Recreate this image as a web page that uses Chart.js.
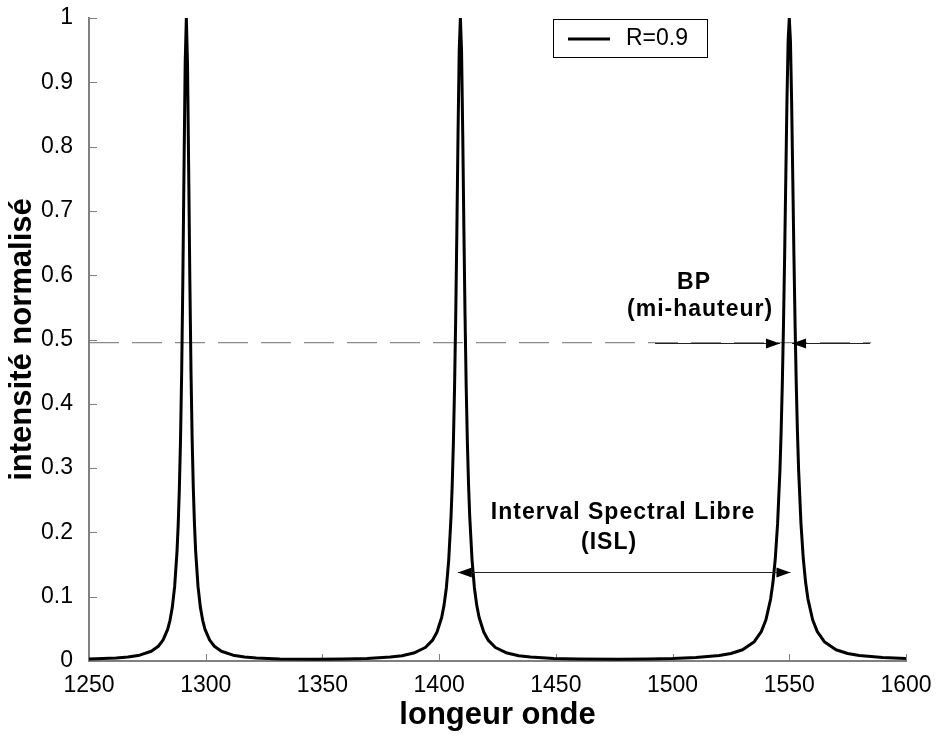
<!DOCTYPE html>
<html>
<head>
<meta charset="utf-8">
<script src="https://cdn.jsdelivr.net/npm/chart.js@4.4.1/dist/chart.umd.min.js"></script>
<style>
  html, body { margin: 0; padding: 0; background: #fff; }
  #wrap { width: 936px; height: 738px; }
</style>
</head>
<body>
<div id="wrap"><canvas id="fpChart" width="936" height="738"></canvas></div>
<script>
// Transmission Fabry-Perot, R = 0.9
const wavelength = [
  1250, 1261.7, 1266.7, 1271.7, 1276.7, 1279.7, 1281.7, 1283.7, 1284.7, 1285.7, 1286.7, 1287.7, 1288.2, 1288.7, 1289.2,
  1289.7, 1290.2, 1290.7, 1291.2, 1291.7, 1292.2, 1292.7, 1293.2, 1293.7, 1294.2, 1294.7, 1295.2, 1295.7, 1296.7, 1297.7,
  1298.7, 1299.7, 1301.7, 1303.7, 1306.7, 1311.7, 1316.7, 1321.7, 1331.7, 1347.8,
  1359.1, 1369.1, 1379.1, 1384.1, 1389.1, 1394.1, 1397.1, 1399.1, 1401.1, 1402.1, 1403.1, 1404.1, 1405.1, 1405.6, 1406.1,
  1406.6, 1407.1, 1407.6, 1408.1, 1408.6, 1409.1, 1409.6, 1410.1, 1410.6, 1411.1, 1411.6, 1412.1, 1412.6, 1413.1, 1414.1,
  1415.1, 1416.1, 1417.1, 1419.1, 1421.1, 1424.1, 1429.1, 1434.1, 1439.1, 1449.1, 1459.1, 1476.2,
  1490, 1500, 1510, 1520, 1525, 1530, 1535, 1538, 1540, 1542, 1543, 1544, 1545, 1546, 1546.5, 1547, 1547.5, 1548,
  1548.5, 1549, 1549.5, 1550, 1550.5, 1551, 1551.5, 1552, 1552.5, 1553, 1553.5, 1554, 1555, 1556, 1557, 1558, 1560,
  1562, 1565, 1570, 1575, 1580, 1590, 1600
];
const intensity = [
  0.0032, 0.0047, 0.0062, 0.0091, 0.0152, 0.0230, 0.0324, 0.0493, 0.0632, 0.0838, 0.116, 0.170, 0.211, 0.267, 0.343,
  0.449, 0.592, 0.765, 0.929, 1, 0.929, 0.765, 0.592, 0.449, 0.343, 0.267, 0.211, 0.170, 0.116, 0.0838,
  0.0632, 0.0493, 0.0324, 0.0230, 0.0152, 0.0091, 0.0062, 0.0047, 0.0033, 0.0028,
  0.0031, 0.0040, 0.0061, 0.0083, 0.0124, 0.0210, 0.0320, 0.0450, 0.0681, 0.0869, 0.114, 0.157, 0.225, 0.274, 0.339,
  0.425, 0.536, 0.672, 0.822, 0.949, 1, 0.949, 0.822, 0.672, 0.536, 0.425, 0.339, 0.274, 0.225, 0.157,
  0.114, 0.0869, 0.0681, 0.0450, 0.0320, 0.0210, 0.0124, 0.0083, 0.0061, 0.0040, 0.0031, 0.0028,
  0.0032, 0.0038, 0.0053, 0.0084, 0.0117, 0.0175, 0.0300, 0.0457, 0.0641, 0.0963, 0.122, 0.159, 0.214, 0.297, 0.356, 0.429, 0.520, 0.628,
  0.750, 0.871, 0.964, 1, 0.964, 0.871, 0.750, 0.628, 0.520, 0.429, 0.356, 0.297, 0.214, 0.159, 0.122, 0.0963, 0.0641,
  0.0457, 0.0300, 0.0175, 0.0117, 0.0084, 0.0053, 0.0038
];

// ligne mi-hauteur (pointillés)
const halfX = [1250, 1585];
const halfY = [0.495, 0.495];

// fleches (unites des axes)
const bpLeftArrow = [1492.5, 1546];   // de -> pointe
const bpRightArrow = [1584.6, 1551.2];
const islArrow = [1408, 1550.5];
const islLevel = 0.139;

const xTicks = [1250, 1300, 1350, 1400, 1450, 1500, 1550, 1600];
const xTickLabels = ['1250', '1300', '1350', '1400', '1450', '1500', '1550', '1600'];
const yTicks = [0, 0.1, 0.2, 0.3, 0.4, 0.5, 0.6, 0.7, 0.8, 0.9, 1];
const yTickLabels = ['0', '0.1', '0.2', '0.3', '0.4', '0.5', '0.6', '0.7', '0.8', '0.9', '1'];

const seriesLabel = 'R=0.9';

const notes = [
  { text: 'BP', x: 1509.2, y: 0.588 },
  { text: '(mi-hauteur)', x: 1511.8, y: 0.546 },
  { text: 'Interval Spectral Libre', x: 1478.8, y: 0.230 },
  { text: '(ISL)', x: 1472.8, y: 0.184 }
];

const FONT = 'Arial, "Liberation Sans", Helvetica, sans-serif';

function arrowHead(ctx, tipX, tipY, dir) {
  // dir = -1 pointe a gauche, 1 a droite
  const len = 14, half = 5;
  ctx.beginPath();
  ctx.moveTo(tipX, tipY);
  ctx.lineTo(tipX - dir * len, tipY - half);
  ctx.lineTo(tipX - dir * len, tipY + half);
  ctx.closePath();
  ctx.fill();
}

const insideTicks = {
  id: 'insideTicks',
  beforeDatasetsDraw(chart) {
    const { ctx, chartArea, scales } = chart;
    ctx.save();
    ctx.strokeStyle = '#808080';
    ctx.lineWidth = 1;
    xTicks.forEach(v => {
      const px = Math.round(scales.x.getPixelForValue(v)) + 0.5;
      ctx.beginPath();
      ctx.moveTo(px, chartArea.bottom);
      ctx.lineTo(px, chartArea.bottom - 7);
      ctx.stroke();
    });
    yTicks.forEach(v => {
      const py = Math.round(scales.y.getPixelForValue(v)) + 0.5;
      ctx.beginPath();
      ctx.moveTo(chartArea.left, py);
      ctx.lineTo(chartArea.left + 8, py);
      ctx.stroke();
    });
    ctx.restore();
  }
};

const annotations = {
  id: 'annotations',
  afterDatasetsDraw(chart) {
    const { ctx, scales } = chart;
    const xs = scales.x, ys = scales.y;
    ctx.save();
    ctx.strokeStyle = '#222';
    ctx.fillStyle = '#000';
    ctx.lineWidth = 1;

    // fleches BP
    const yb = Math.round(ys.getPixelForValue(halfY[0])) + 0.5;
    [bpLeftArrow, bpRightArrow].forEach(a => {
      const x0 = xs.getPixelForValue(a[0]);
      const x1 = xs.getPixelForValue(a[1]);
      ctx.beginPath();
      ctx.moveTo(x0, yb);
      ctx.lineTo(x1, yb);
      ctx.stroke();
      arrowHead(ctx, x1, yb, x1 > x0 ? 1 : -1);
    });

    // double fleche ISL
    const yi = Math.round(ys.getPixelForValue(islLevel)) + 0.5;
    const xa = xs.getPixelForValue(islArrow[0]);
    const xb = xs.getPixelForValue(islArrow[1]);
    ctx.beginPath();
    ctx.moveTo(xa, yi);
    ctx.lineTo(xb, yi);
    ctx.stroke();
    arrowHead(ctx, xa, yi, -1);
    arrowHead(ctx, xb, yi, 1);

    // textes
    ctx.font = 'bold 23px ' + FONT;
    if ('letterSpacing' in ctx) ctx.letterSpacing = '1px';
    ctx.textAlign = 'center';
    ctx.textBaseline = 'middle';
    notes.forEach(n => {
      ctx.fillText(n.text, xs.getPixelForValue(n.x), ys.getPixelForValue(n.y));
    });
    ctx.restore();
  }
};

const boxLegend = {
  id: 'boxLegend',
  afterDraw(chart) {
    const { ctx } = chart;
    const ds = chart.data.datasets[0];
    ctx.save();
    ctx.fillStyle = '#fff';
    ctx.fillRect(553, 19, 155, 39);
    ctx.strokeStyle = '#000';
    ctx.lineWidth = 1;
    ctx.strokeRect(553.5, 19.5, 154, 38);
    ctx.strokeStyle = ds.borderColor;
    ctx.lineWidth = ds.borderWidth;
    ctx.beginPath();
    ctx.moveTo(568, 39);
    ctx.lineTo(610, 39);
    ctx.stroke();
    ctx.fillStyle = '#000';
    ctx.font = '23px ' + FONT;
    ctx.textAlign = 'left';
    ctx.textBaseline = 'middle';
    ctx.fillText(ds.label, 626, 39);
    ctx.restore();
  }
};

const ctx = document.getElementById('fpChart').getContext('2d');
new Chart(ctx, {
  type: 'line',
  data: {
    datasets: [
      {
        label: seriesLabel,
        data: wavelength.map((w, i) => ({ x: w, y: intensity[i] })),
        borderColor: '#000',
        borderWidth: 3,
        pointRadius: 0,
        tension: 0,
        fill: false,
        borderJoinStyle: 'round'
      },
      {
        label: 'mi-hauteur',
        data: halfX.map((w, i) => ({ x: w, y: halfY[i] })),
        borderColor: '#6e6e6e',
        borderWidth: 1,
        borderDash: [30, 13],
        pointRadius: 0,
        fill: false
      }
    ]
  },
  options: {
    responsive: false,
    animation: false,
    layout: { padding: { left: 0, right: 30, top: 18, bottom: 0 } },
    plugins: {
      legend: { display: false },
      tooltip: { enabled: false }
    },
    scales: {
      x: {
        type: 'linear',
        min: 1250,
        max: 1600,
        afterBuildTicks: s => { s.ticks = xTicks.map(v => ({ value: v })); },
        afterFit: s => { s.height = 77; s.paddingLeft = 0; s.paddingRight = 0; },
        grid: { display: false },
        border: { color: '#808080', width: 2 },
        ticks: {
          color: '#000',
          padding: 3,
          maxRotation: 0,
          font: { family: FONT, size: 23 },
          callback: (v, i) => xTickLabels[i]
        },
        title: {
          display: true,
          text: 'longeur onde',
          color: '#000',
          font: { family: FONT, size: 31, weight: 'bold' },
          padding: 4
        }
      },
      y: {
        type: 'linear',
        min: 0,
        max: 1,
        afterBuildTicks: s => { s.ticks = yTicks.map(v => ({ value: v })); },
        afterFit: s => { s.width = 89; s.paddingTop = 0; s.paddingBottom = 0; },
        grid: { display: false },
        border: { color: '#808080', width: 2 },
        ticks: {
          color: '#000',
          padding: 8,
          font: { family: FONT, size: 23 },
          callback: (v, i) => yTickLabels[i]
        },
        title: {
          display: true,
          text: 'intensité normalisé',
          color: '#000',
          font: { family: FONT, size: 31, weight: 'bold' },
          padding: 4
        }
      }
    }
  },
  plugins: [insideTicks, annotations, boxLegend]
});
</script>
</body>
</html>
